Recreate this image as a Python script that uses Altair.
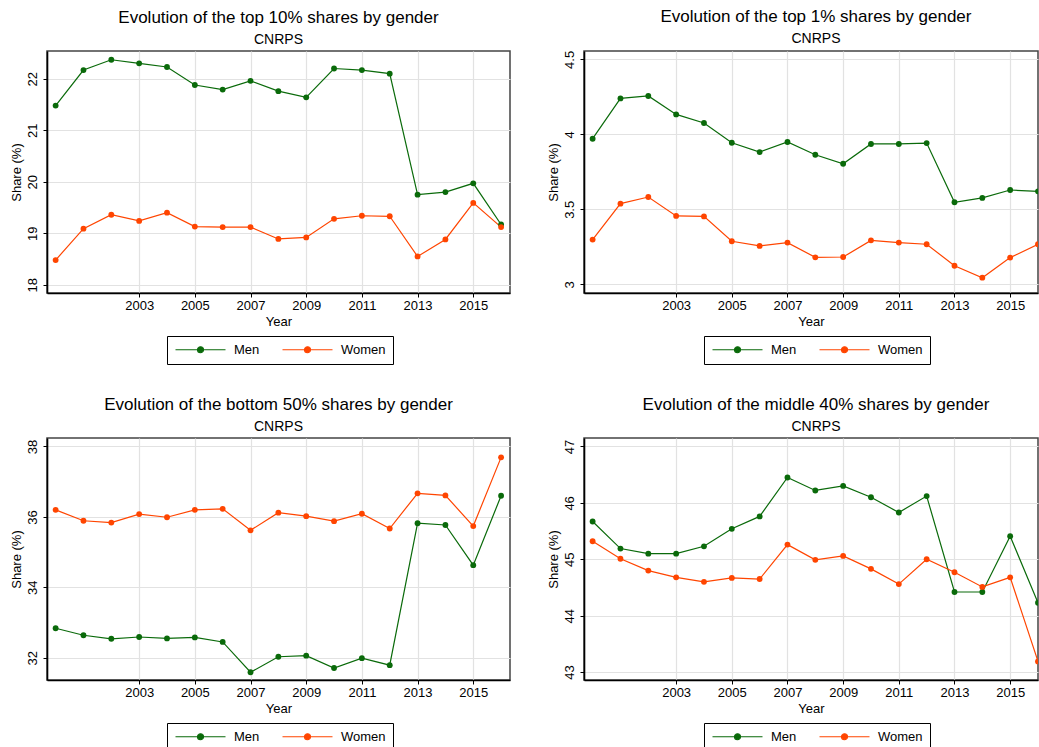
import altair as alt
import pandas as pd

years = list(range(2000, 2017))

top10_men = [21.48, 22.17, 22.37, 22.30, 22.23, 21.88, 21.79, 21.96, 21.76, 21.64, 22.20, 22.17, 22.10, 19.75, 19.80, 19.97, 19.17]
top10_women = [18.48, 19.09, 19.36, 19.24, 19.40, 19.13, 19.12, 19.12, 18.89, 18.92, 19.28, 19.34, 19.33, 18.55, 18.88, 19.59, 19.12]

top1_men = [3.971, 4.240, 4.256, 4.133, 4.076, 3.944, 3.882, 3.949, 3.864, 3.804, 3.936, 3.936, 3.942, 3.547, 3.576, 3.629, 3.620]
top1_women = [3.298, 3.538, 3.582, 3.456, 3.453, 3.287, 3.256, 3.278, 3.180, 3.182, 3.293, 3.278, 3.267, 3.124, 3.044, 3.178, 3.267]

bot50_men = [32.84, 32.64, 32.54, 32.59, 32.55, 32.58, 32.45, 31.59, 32.03, 32.06, 31.71, 31.99, 31.79, 35.82, 35.77, 34.63, 36.60]
bot50_women = [36.20, 35.89, 35.84, 36.08, 35.99, 36.20, 36.23, 35.62, 36.12, 36.02, 35.88, 36.09, 35.67, 36.67, 36.61, 35.74, 37.69]

mid40_men = [45.67, 45.19, 45.10, 45.10, 45.23, 45.54, 45.76, 46.45, 46.22, 46.30, 46.10, 45.83, 46.12, 44.42, 44.42, 45.41, 44.23]
mid40_women = [45.32, 45.01, 44.80, 44.68, 44.60, 44.67, 44.65, 45.26, 44.99, 45.06, 44.83, 44.56, 45.00, 44.77, 44.51, 44.68, 43.19]

x_ticks = [2003, 2005, 2007, 2009, 2011, 2013, 2015]
groups = ["Men", "Women"]
colors = ["#0a6a0a", "#ff4500"]

FONT = "Liberation Sans"
# line with a dot, drawn right of the nominal symbol box
LEG_SYMBOL = "M-1,0L9,0M4.6,0A0.6,0.6,0,1,1,3.4,0A0.6,0.6,0,1,1,4.6,0Z"


def panel(title, men, women, ydomain, yticks, width, xmax, title_dx):
    df = pd.DataFrame({
        "Year": years + years,
        "Share": men + women,
        "Group": ["Men"] * len(years) + ["Women"] * len(years),
    })
    base = alt.Chart(df).encode(
        x=alt.X("Year:Q",
                scale=alt.Scale(domain=[1999.69, xmax], nice=False, zero=False),
                axis=alt.Axis(values=x_ticks, format="d", title="Year")),
        y=alt.Y("Share:Q",
                scale=alt.Scale(domain=ydomain, nice=False, zero=False),
                axis=alt.Axis(values=yticks, title="Share (%)", labelAngle=270,
                              labelAlign="center", labelBaseline="bottom",
                              labelPadding=4, format=".2~f")),
        color=alt.Color("Group:N",
                        scale=alt.Scale(domain=groups, range=colors),
                        legend=alt.Legend(
                            title=None, orient="none", legendX=120, legendY=285,
                            direction="horizontal", strokeColor="black",
                            padding=7, symbolType=LEG_SYMBOL, symbolSize=100,
                            symbolStrokeWidth=1.2, labelFontSize=13, labelFont=FONT,
                            labelColor="black", columnPadding=20, labelOffset=47)),
    )
    line = base.mark_line(strokeWidth=1.2, clip=True)
    pts = base.mark_point(filled=True, size=34, opacity=1, shape="circle", clip=True)
    return alt.layer(line, pts).properties(
        width=width, height=242,
        title=alt.TitleParams(text=title, subtitle="CNRPS", anchor="middle",
                              frame="group", fontSize=17, subtitleFontSize=14,
                              font=FONT, subtitleFont=FONT, fontWeight="normal",
                              color="black", subtitleColor="black",
                              subtitlePadding=6, offset=3, dx=title_dx),
    )


p1 = panel("Evolution of the top 10% shares by gender", top10_men, top10_women,
           [17.84, 22.54], [18, 19, 20, 21, 22], 463, 2016.32, 0)
p2 = panel("Evolution of the top 1% shares by gender", top1_men, top1_women,
           [2.942, 4.556], [3, 3.5, 4, 4.5], 454, 2016.0, 5)
p3 = panel("Evolution of the bottom 50% shares by gender", bot50_men, bot50_women,
           [31.37, 38.24], [32, 34, 36, 38], 463, 2016.32, 0)
p4 = panel("Evolution of the middle 40% shares by gender", mid40_men, mid40_women,
           [42.86, 47.15], [43, 44, 45, 46, 47], 454, 2016.0, 5)

chart = alt.vconcat(
    alt.hconcat(p1, p2, spacing=35).resolve_scale(color="independent"),
    alt.hconcat(p3, p4, spacing=35).resolve_scale(color="independent"),
    spacing=29,
).resolve_scale(color="independent").properties(
    padding={"left": 9, "top": 7, "right": 0, "bottom": 0},
    background="white",
).configure_view(
    stroke="#444444", strokeWidth=1.5
).configure_axis(
    labelFont=FONT, titleFont=FONT, labelFontSize=13, titleFontSize=13,
    labelColor="black", titleColor="black", titleFontWeight="normal",
    domainColor="black", domainWidth=1.6, tickColor="black", tickSize=4,
    gridColor="#e2e2e2", gridWidth=1.2, labelPadding=2, titlePadding=3,
)

chart.save("out.html", embed_options={"renderer": "svg", "actions": False})
